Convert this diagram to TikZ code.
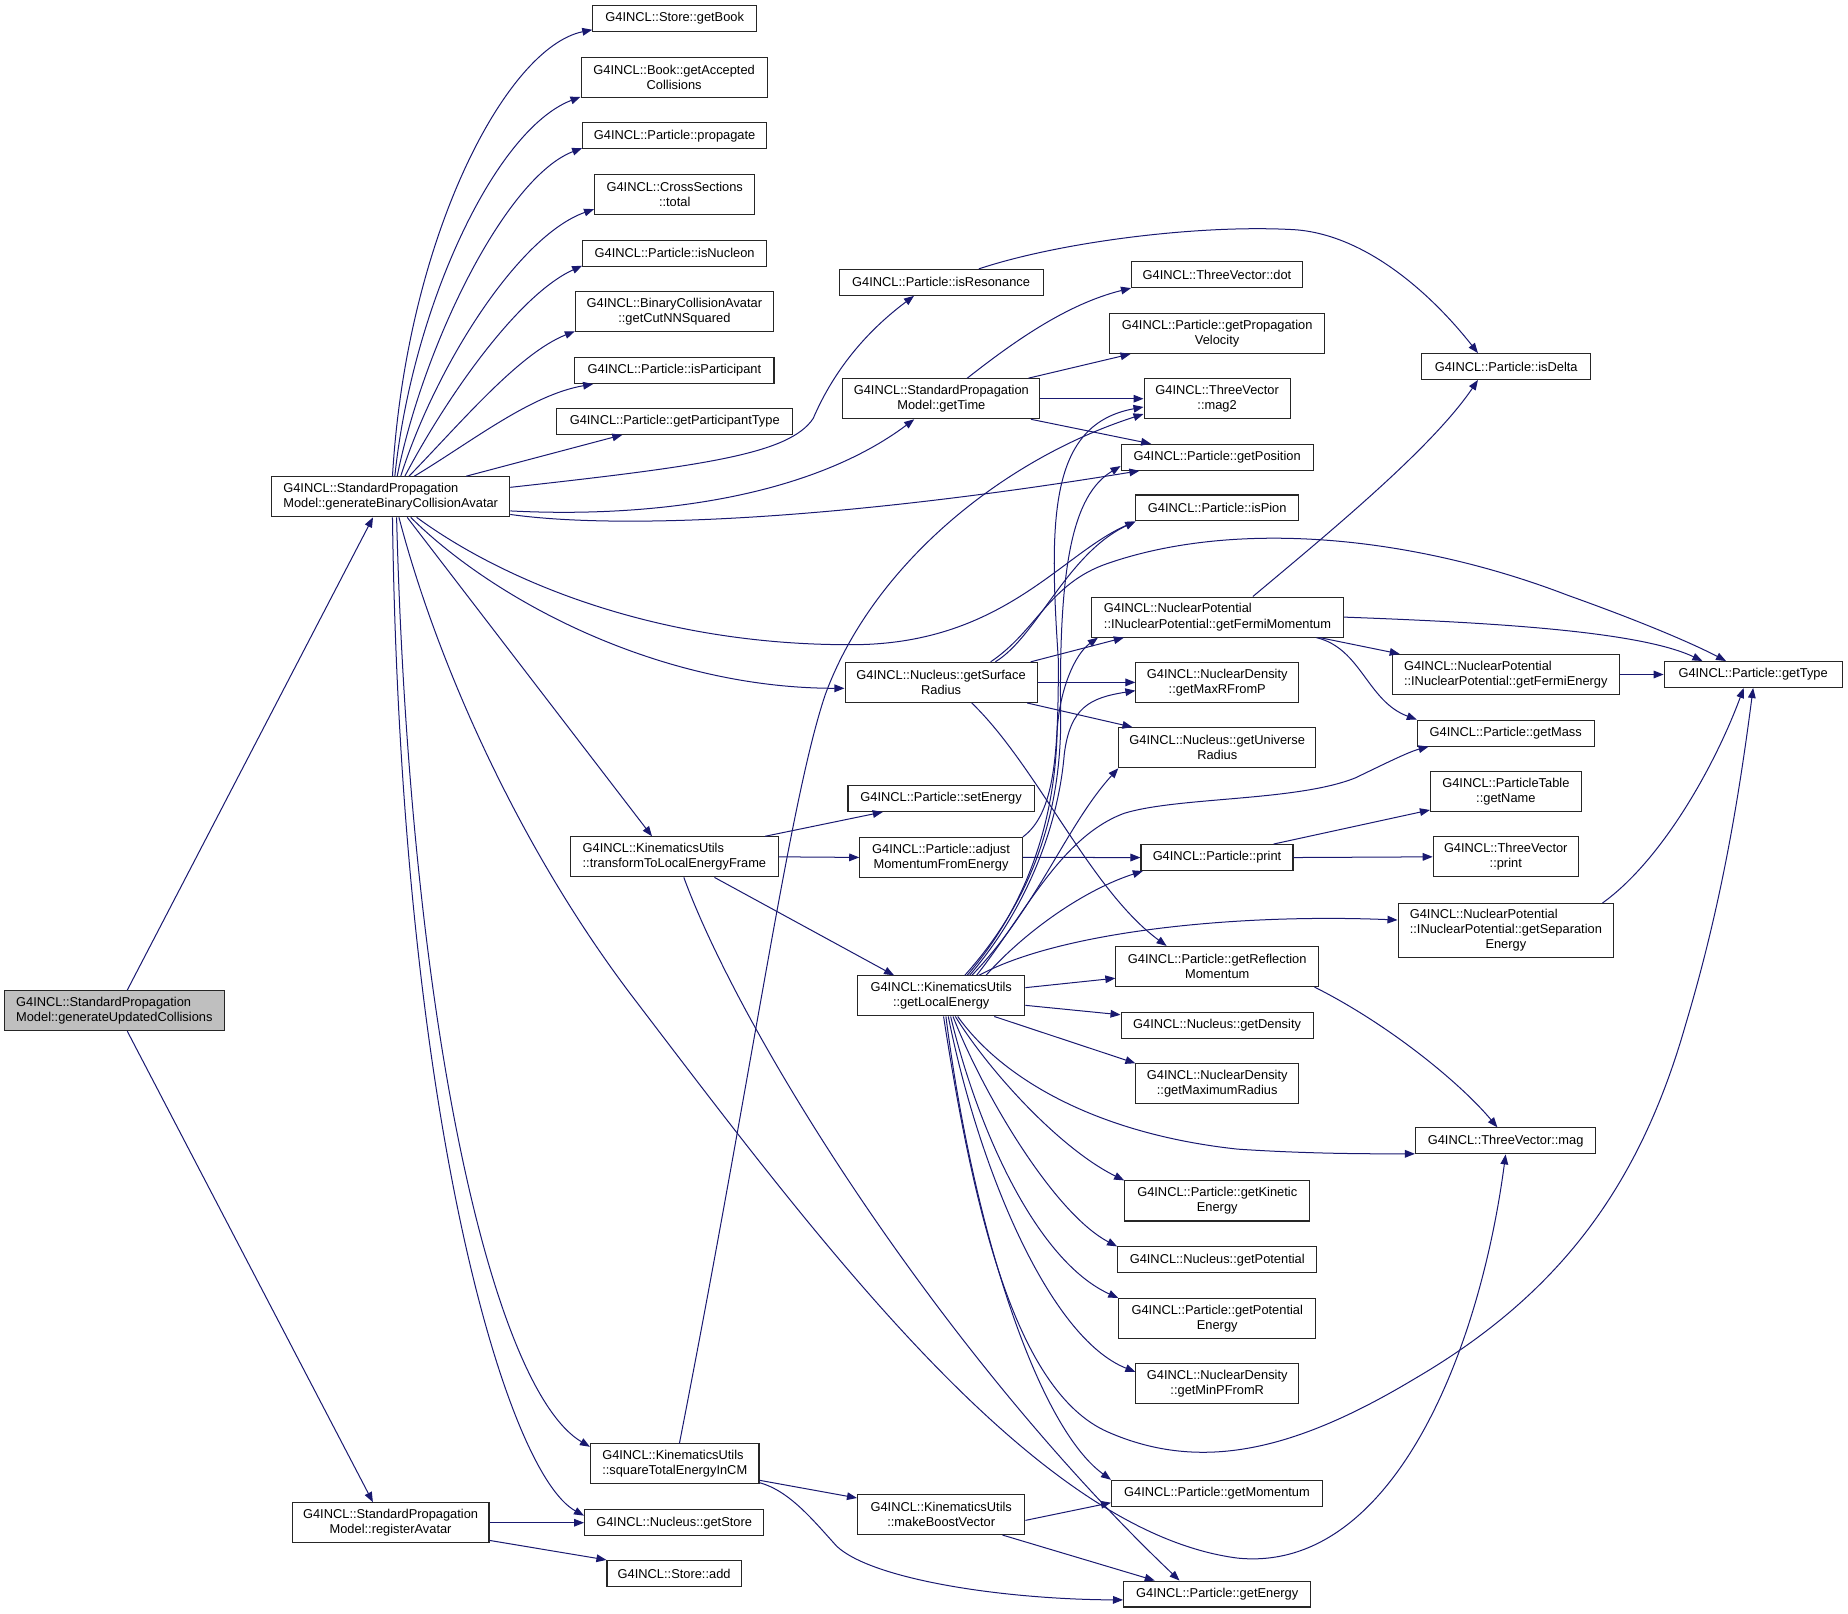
\documentclass[tikz,border=0pt]{standalone}
\usepackage{fontspec}
\setmainfont{Liberation Sans}
\usepackage{xcolor}
\definecolor{midnight_dox}{RGB}{25,25,112}
\definecolor{grey_dox}{RGB}{191,191,191}
\usepackage{tikz}
\usetikzlibrary{arrows.meta,positioning}

\begin{document}
\begin{tikzpicture}
[	x=1pt, y=-1pt,
	fn/.style = {draw=black!85, line width=0.9pt, rectangle, fill=white, inner sep=0pt, minimum height=22, align=center, font=\fontsize{10.9}{12.9}\selectfont},
	two/.style = {minimum height=34},
	calls/.style = {draw=midnight_dox, line width=0.85pt, -{Triangle[length=8.5pt,width=6.5pt]}}
]
\useasboundingbox (0,0) rectangle (1568,1369);

\node[fn, minimum width=139] (getbook) at (572.5,15.8) {G4INCL::Store::getBook};
\node[fn, two, minimum width=158] (getacc) at (572,65.7) {G4INCL::Book::getAccepted\\Collisions};
\node[fn, minimum width=156] (propagate) at (572.4,115.2) {G4INCL::Particle::propagate};
\node[fn, two, minimum width=136] (total) at (572.5,165) {G4INCL::CrossSections\\::total};
\node[fn, minimum width=156] (isnucleon) at (572.4,215) {G4INCL::Particle::isNucleon};
\node[fn, two, minimum width=168] (getcutnn) at (572.2,264.6) {G4INCL::BinaryCollisionAvatar\\::getCutNNSquared};
\node[fn, minimum width=169] (ispart) at (572.2,314.4) {G4INCL::Particle::isParticipant};
\node[fn, minimum width=200] (getparttype) at (572.5,357.5) {G4INCL::Particle::getParticipantType};
\node[fn, two, align=left, minimum width=202] (gbca) at (331.5,421.5) {G4INCL::StandardPropagation\\Model::generateBinaryCollisionAvatar};
\node[fn, two, align=left, fill=grey_dox, minimum width=187] (guc) at (97,857.5) {G4INCL::StandardPropagation\\Model::generateUpdatedCollisions};
\node[fn, two, minimum width=167] (ra) at (331.4,1292) {G4INCL::StandardPropagation\\Model::registerAvatar};

\node[fn, minimum width=173] (isres) at (798.5,239.6) {G4INCL::Particle::isResonance};
\node[fn, two, minimum width=167] (gettime) at (798.7,338.3) {G4INCL::StandardPropagation\\Model::getTime};
\node[fn, two, minimum width=163] (gsr) at (798.5,579) {G4INCL::Nucleus::getSurface\\Radius};
\node[fn, minimum width=158] (setenergy) at (798.5,677.5) {G4INCL::Particle::setEnergy};
\node[fn, two, align=left, minimum width=176] (tr) at (572.2,727) {G4INCL::KinematicsUtils\\::transformToLocalEnergyFrame};
\node[fn, two, minimum width=138] (adj) at (798.5,727.5) {G4INCL::Particle::adjust\\MomentumFromEnergy};
\node[fn, two, minimum width=142] (gle) at (798.6,845) {G4INCL::KinematicsUtils\\::getLocalEnergy};
\node[fn, two, align=left, minimum width=143] (sqcm) at (572.5,1242) {G4INCL::KinematicsUtils\\::squareTotalEnergyInCM};
\node[fn, two, minimum width=142] (mbv) at (798.6,1285) {G4INCL::KinematicsUtils\\::makeBoostVector};
\node[fn, minimum width=152] (getstore) at (572,1292) {G4INCL::Nucleus::getStore};
\node[fn, minimum width=114] (add) at (572,1335) {G4INCL::Store::add};

\node[fn, minimum width=145] (dot) at (1032.6,233) {G4INCL::ThreeVector::dot};
\node[fn, two, minimum width=182] (gpv) at (1032.7,282.9) {G4INCL::Particle::getPropagation\\Velocity};
\node[fn, two, minimum width=124] (mag2) at (1032.7,338.3) {G4INCL::ThreeVector\\::mag2};
\node[fn, minimum width=163] (getpos) at (1032.7,388) {G4INCL::Particle::getPosition};
\node[fn, minimum width=138] (ispion) at (1032.8,431) {G4INCL::Particle::isPion};
\node[fn, two, align=left, minimum width=214] (gfm) at (1033,523.6) {G4INCL::NuclearPotential\\::INuclearPotential::getFermiMomentum};
\node[fn, two, minimum width=138] (gmaxr) at (1032.8,579) {G4INCL::NuclearDensity\\::getMaxRFromP};
\node[fn, two, minimum width=167] (gunivr) at (1032.8,634.4) {G4INCL::Nucleus::getUniverse\\Radius};
\node[fn, minimum width=129] (pprint) at (1032.6,727.6) {G4INCL::Particle::print};
\node[fn, two, minimum width=172] (grefl) at (1032.8,820) {G4INCL::Particle::getReflection\\Momentum};
\node[fn, minimum width=163] (getdensity) at (1032.7,870) {G4INCL::Nucleus::getDensity};
\node[fn, two, minimum width=138] (gmaxrad) at (1032.8,919.6) {G4INCL::NuclearDensity\\::getMaximumRadius};
\node[fn, two, minimum width=157] (gkin) at (1032.8,1019) {G4INCL::Particle::getKinetic\\Energy};
\node[fn, minimum width=169] (gpot) at (1032.8,1069) {G4INCL::Nucleus::getPotential};
\node[fn, two, minimum width=167] (gpote) at (1032.8,1118.8) {G4INCL::Particle::getPotential\\Energy};
\node[fn, two, minimum width=138] (gminp) at (1032.8,1174) {G4INCL::NuclearDensity\\::getMinPFromR};
\node[fn, minimum width=179] (getmom) at (1032.6,1267) {G4INCL::Particle::getMomentum};
\node[fn, minimum width=159] (genergy) at (1032.8,1352.5) {G4INCL::Particle::getEnergy};

\node[fn, minimum width=143] (isdelta) at (1278,311) {G4INCL::Particle::isDelta};
\node[fn, two, align=left, minimum width=193] (gfe) at (1277.6,572.3) {G4INCL::NuclearPotential\\::INuclearPotential::getFermiEnergy};
\node[fn, minimum width=150] (getmass) at (1277.6,622) {G4INCL::Particle::getMass};
\node[fn, two, minimum width=128] (getname) at (1277.7,671.8) {G4INCL::ParticleTable\\::getName};
\node[fn, two, minimum width=123] (tvprint) at (1277.6,727) {G4INCL::ThreeVector\\::print};
\node[fn, minimum height=46, minimum width=183] (gsep) at (1277.7,789.6) {\begin{tabular}{@{}l@{}}G4INCL::NuclearPotential\\::INuclearPotential::getSeparation\\\multicolumn{1}{@{}c@{}}{Energy}\end{tabular}};
\node[fn, minimum width=153] (mag) at (1277.5,968) {G4INCL::ThreeVector::mag};
\node[fn, minimum width=151] (gettype) at (1487.5,572.3) {G4INCL::Particle::getType};

% root
\draw[calls] ([xshift=11pt]guc.north) -- ([xshift=-15pt]gbca.south);
\draw[calls] ([xshift=11pt]guc.south) -- ([xshift=-15pt]ra.north);

% generateBinaryCollisionAvatar
\draw[calls] ([xshift=1.5pt]gbca.north) .. controls (345,200) and (430,40) .. ([yshift=2pt]getbook.south west);
\draw[calls] ([xshift=3.5pt]gbca.north) .. controls (350,260) and (420,110) .. ([yshift=1pt]getacc.south west);
\draw[calls] ([xshift=5.5pt]gbca.north) .. controls (360,290) and (430,150) .. ([yshift=1pt]propagate.south west);
\draw[calls] ([xshift=8.5pt]gbca.north) .. controls (370,310) and (440,200) .. ([yshift=5pt]total.south west);
\draw[calls] ([xshift=12pt]gbca.north) .. controls (380,335) and (440,250) .. ([yshift=1pt]isnucleon.south west);
\draw[calls] ([xshift=15.5pt]gbca.north) .. controls (390,360) and (440,300) .. ([yshift=1pt]getcutnn.south west);
\draw[calls] ([xshift=20pt]gbca.north) .. controls (400,375) and (450,335) .. ([xshift=16pt]ispart.south west);
\draw[calls] ([xshift=64pt]gbca.north) -- ([xshift=56pt]getparttype.south west);
\draw[calls] ([yshift=8pt]gbca.east) .. controls (600,395) and (670,385) .. (690,355) .. controls (705,320) and (730,285) .. ([xshift=-23pt]isres.south);
\draw[calls] ([yshift=-12pt]gbca.east) .. controls (560,440) and (690,420) .. ([xshift=-23pt]gettime.south);
\draw[calls] ([yshift=-15pt]gbca.east) .. controls (530,450) and (720,440) .. ([xshift=16pt]getpos.south west);
\draw[calls] ([xshift=22pt]gbca.south) .. controls (430,495) and (560,547) .. (720,547) .. controls (850,548) and (900,470) .. (ispion.south west);
\draw[calls] ([xshift=17pt]gbca.south) .. controls (420,510) and (560,584) .. ([yshift=-5pt]gsr.west);
\draw[calls] ([xshift=14pt]gbca.south) -- ([xshift=-19pt]tr.north);
\draw[calls] ([xshift=7pt]gbca.south) .. controls (370,560) and (440,720) .. (540,850) .. controls (700,1060) and (880,1300) .. (1050,1322) .. controls (1180,1335) and (1255,1150) .. (mag.south);
\draw[calls] ([xshift=1.5pt]gbca.south) .. controls (340,950) and (430,1250) .. ([yshift=6pt]getstore.west);
\draw[calls] ([xshift=5pt]gbca.south) .. controls (348,880) and (420,1180) .. ([yshift=-3pt]sqcm.north west);

% registerAvatar
\draw[calls] (ra.east) -- (getstore.west);
\draw[calls] ([yshift=-15pt]ra.east) -- (add.north west);

% third rank
\draw[calls] ([xshift=32pt]isres.north) .. controls (900,205) and (1020,190) .. (1100,195) .. controls (1160,200) and (1215,250) .. ([xshift=-24pt]isdelta.north);
\draw[calls] ([xshift=22pt]gettime.north) .. controls (860,290) and (905,258) .. (dot.south west);
\draw[calls] ([xshift=74pt]gettime.north) -- ([xshift=18pt]gpv.south west);
\draw[calls] (gettime.east) -- (mag2.west);
\draw[calls] ([xshift=76pt]gettime.south) -- ([xshift=-56pt]getpos.north);

\draw[calls] ([xshift=46pt]gsr.north) .. controls (880,540) and (905,470) .. (ispion.south west);
\draw[calls] ([xshift=42pt]gsr.north) .. controls (880,535) and (890,495) .. (940,478) .. controls (1050,440) and (1200,455) .. (1330,505) .. controls (1400,530) and (1440,548) .. ([xshift=-23pt]gettype.north);
\draw[calls] ([xshift=76pt]gsr.north) -- ([xshift=28pt]gfm.south west);
\draw[calls] (gsr.east) -- (gmaxr.west);
\draw[calls] ([xshift=73pt]gsr.south) -- ([xshift=12pt]gunivr.north west);
\draw[calls] ([xshift=26pt]gsr.south) .. controls (880,650) and (925,755) .. ([xshift=-43pt]grefl.north);

\draw[calls] ([xshift=77pt]tr.north) -- ([xshift=30pt]setenergy.south west);
\draw[calls] (tr.east) -- (adj.west);
\draw[calls] ([xshift=34pt]tr.south) -- ([xshift=-40pt]gle.north);
\draw[calls] ([xshift=8pt]tr.south) .. controls (630,880) and (800,1150) .. ([xshift=-32pt]genergy.north);

\draw[calls] (adj.east) -- (pprint.west);
\draw[calls] (adj.north east) .. controls (895,690) and (898,640) .. (898,560) .. controls (890,440) and (890,360) .. ([yshift=-7pt]mag2.west);

\draw[calls] ([xshift=4pt]sqcm.north) .. controls (640,900) and (670,680) .. (700,590) .. controls (740,480) and (850,390) .. ([yshift=-13pt]mag2.west);
\draw[calls] ([yshift=-14pt]sqcm.east) -- ([yshift=14pt]mbv.west);
\draw[calls] ([yshift=-16pt]sqcm.east) .. controls (670,1265) and (690,1290) .. (710,1312) .. controls (740,1340) and (850,1357) .. ([yshift=-5pt]genergy.west);

\draw[calls] ([yshift=-5pt]mbv.east) -- ([yshift=-8pt]getmom.west);
\draw[calls] ([xshift=52pt]mbv.south) -- ([xshift=-53pt]genergy.north);

% getLocalEnergy
\draw[calls] ([xshift=20pt]gle.north) .. controls (870,770) and (900,700) .. (900,610) .. controls (898,480) and (910,420) .. ([yshift=4pt]getpos.south west);
\draw[calls] ([xshift=22pt]gle.north) .. controls (870,770) and (895,700) .. (897,620) .. controls (899,585) and (912,555) .. ([xshift=6pt]gfm.south west);
\draw[calls] ([xshift=24pt]gle.north) .. controls (872,770) and (898,700) .. (903,640) .. controls (908,600) and (925,592) .. ([yshift=-7pt]gmaxr.west);
\draw[calls] ([xshift=26pt]gle.north) .. controls (880,770) and (905,700) .. (gunivr.south west);
\draw[calls] ([xshift=30pt]gle.north) .. controls (870,775) and (900,710) .. (954,690) .. controls (1000,676) and (1100,680) .. (1150,660) .. controls (1175,648) and (1195,638) .. ([xshift=10pt]getmass.south west);
\draw[calls] ([xshift=38pt]gle.north) .. controls (870,790) and (920,755) .. ([xshift=2pt]pprint.south west);
\draw[calls] ([xshift=32pt]gle.north) .. controls (900,790) and (1050,775) .. ([yshift=9pt]gsep.west);
\draw[calls] ([yshift=7pt]gle.east) -- ([yshift=-10pt]grefl.west);
\draw[calls] ([yshift=-8pt]gle.east) -- ([yshift=9pt]getdensity.west);
\draw[calls] ([xshift=45pt]gle.south) -- (gmaxrad.north west);
\draw[calls] ([xshift=14pt]gle.south) .. controls (850,915) and (930,962) .. (1050,975) .. controls (1110,979) and (1160,979) .. ([yshift=-11pt]mag.west);
\draw[calls] ([xshift=12pt]gle.south) .. controls (840,910) and (900,975) .. (gkin.north west);
\draw[calls] ([xshift=10pt]gle.south) .. controls (835,930) and (895,1030) .. (gpot.north west);
\draw[calls] ([xshift=8pt]gle.south) .. controls (830,960) and (880,1070) .. (gpote.north west);
\draw[calls] ([xshift=6pt]gle.south) .. controls (830,990) and (890,1135) .. ([yshift=10pt]gminp.west);
\draw[calls] ([xshift=4pt]gle.south) .. controls (825,1040) and (880,1210) .. (getmom.north west);
\draw[calls] ([xshift=2pt]gle.south) .. controls (825,1020) and (860,1180) .. (940,1215) .. controls (1020,1250) and (1100,1230) .. (1200,1170) .. controls (1320,1100) and (1390,1010) .. (1430,870) .. controls (1460,770) and (1475,680) .. (gettype.south);

% fourth rank
\draw[calls] ([xshift=30pt]gfm.north) .. controls (1130,450) and (1215,380) .. ([xshift=-24pt]isdelta.south);
\draw[calls] (gfm.east) .. controls (1260,528) and (1390,535) .. ([xshift=-43pt]gettype.north);
\draw[calls] ([xshift=87pt]gfm.south) -- ([xshift=7pt]gfe.north west);
\draw[calls] ([xshift=84pt]gfm.south) .. controls (1155,550) and (1160,595) .. (getmass.north west);
\draw[calls] ([xshift=48pt]pprint.north) -- ([yshift=2pt]getname.south west);
\draw[calls] (pprint.east) -- (tvprint.west);
\draw[calls] ([xshift=-4pt]grefl.south east) .. controls (1180,870) and (1240,920) .. ([xshift=-7pt]mag.north);

% fifth rank
\draw[calls] (gfe.east) -- (gettype.west);
\draw[calls] ([xshift=82pt]gsep.north) .. controls (1410,730) and (1455,650) .. ([xshift=-8pt]gettype.south);

\end{tikzpicture}
\end{document}
